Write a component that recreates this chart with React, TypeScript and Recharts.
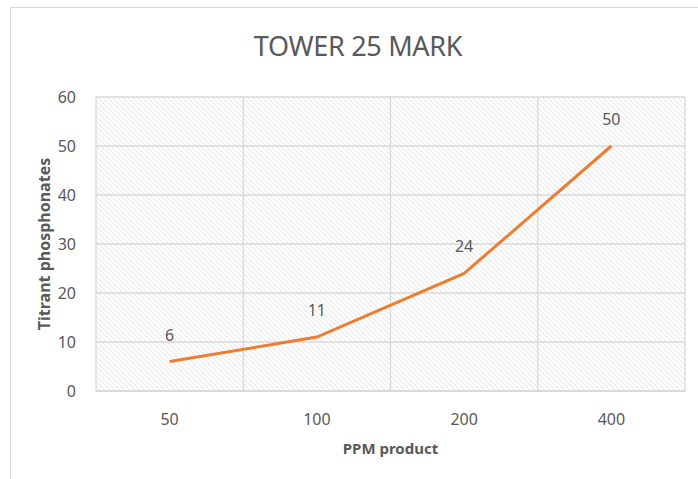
import React from "react";
import {
  LineChart,
  Line,
  XAxis,
  YAxis,
  CartesianGrid,
  LabelList,
} from "recharts";

const categories = ["50", "100", "200", "400"];
const titrant = [6, 11, 24, 50];
const yTicks = [0, 10, 20, 30, 40, 50, 60];

const data = categories.map((ppm, i) => ({ ppm, titrant: titrant[i] }));

const FONT = "'Noto Sans', 'Open Sans', sans-serif";
const GRAY_TEXT = "#595959";
const GRID = "#d9d9d9";

export default function App() {
  return (
    <div
      style={{
        position: "absolute",
        left: 0,
        top: 0,
        width: 698,
        height: 479,
        background: "#fff",
        fontFamily: FONT,
        overflow: "hidden",
      }}
    >
      {/* outer chart frame */}
      <div
        style={{
          position: "absolute",
          left: 10,
          top: 7,
          width: 700,
          height: 480,
          borderLeft: `1px solid ${GRID}`,
          borderTop: `1px solid ${GRID}`,
        }}
      />
      <div
        style={{
          position: "absolute",
          top: 27,
          left: 0,
          width: 716,
          textAlign: "center",
          fontSize: 27,
          color: GRAY_TEXT,
          letterSpacing: -0.3,
        }}
      >
        TOWER 25 MARK
      </div>
      <LineChart
        width={698}
        height={479}
        data={data}
        margin={{ top: 97, right: 13, left: 10, bottom: 24 }}
        style={{ position: "absolute", left: 0, top: 0 }}
      >
        <defs>
          <pattern id="hatch" width="5" height="5" patternUnits="userSpaceOnUse">
            <rect width="5" height="5" fill="#ffffff" />
            <path d="M0,0 L5,5 M-1,4 L1,6 M4,-1 L6,1" stroke="#e4e4e4" strokeWidth={1} />
          </pattern>
        </defs>
        <CartesianGrid
          fill="url(#hatch)"
          stroke={GRID}
          strokeWidth={1.3}
          verticalCoordinatesGenerator={({ offset }: any) =>
            [0, 1, 2, 3, 4].map((i) => offset.left + (i * offset.width) / 4)
          }
          horizontalValues={yTicks}
        />
        <XAxis
          dataKey="ppm"
          scale="band"
          height={64}
          axisLine={{ stroke: GRID, strokeWidth: 2 }}
          tickLine={false}
          tickMargin={17}
          tick={{ fill: GRAY_TEXT, fontSize: 16, fontFamily: FONT }}
          label={{
            value: "PPM product",
            position: "insideBottom",
            offset: 1,
            fill: GRAY_TEXT,
            fontSize: 15,
            fontWeight: "bold",
            fontFamily: FONT,
          }}
        />
        <YAxis
          width={86}
          domain={[0, 60]}
          ticks={yTicks}
          axisLine={false}
          tickLine={false}
          tickMargin={14}
          tick={{ fill: GRAY_TEXT, fontSize: 16, fontFamily: FONT }}
          label={{
            value: "Titrant phosphonates",
            angle: -90,
            position: "insideLeft",
            offset: 34,
            style: { textAnchor: "middle" },
            fill: GRAY_TEXT,
            fontSize: 16,
            fontWeight: "bold",
            fontFamily: FONT,
          }}
        />
        <Line
          type="linear"
          dataKey="titrant"
          stroke="#ed7d31"
          strokeWidth={3}
          dot={false}
          isAnimationActive={false}
        >
          <LabelList
            dataKey="titrant"
            position="top"
            offset={21}
            fill={GRAY_TEXT}
            fontSize={16}
            fontFamily={FONT}
          />
        </Line>
      </LineChart>
    </div>
  );
}
